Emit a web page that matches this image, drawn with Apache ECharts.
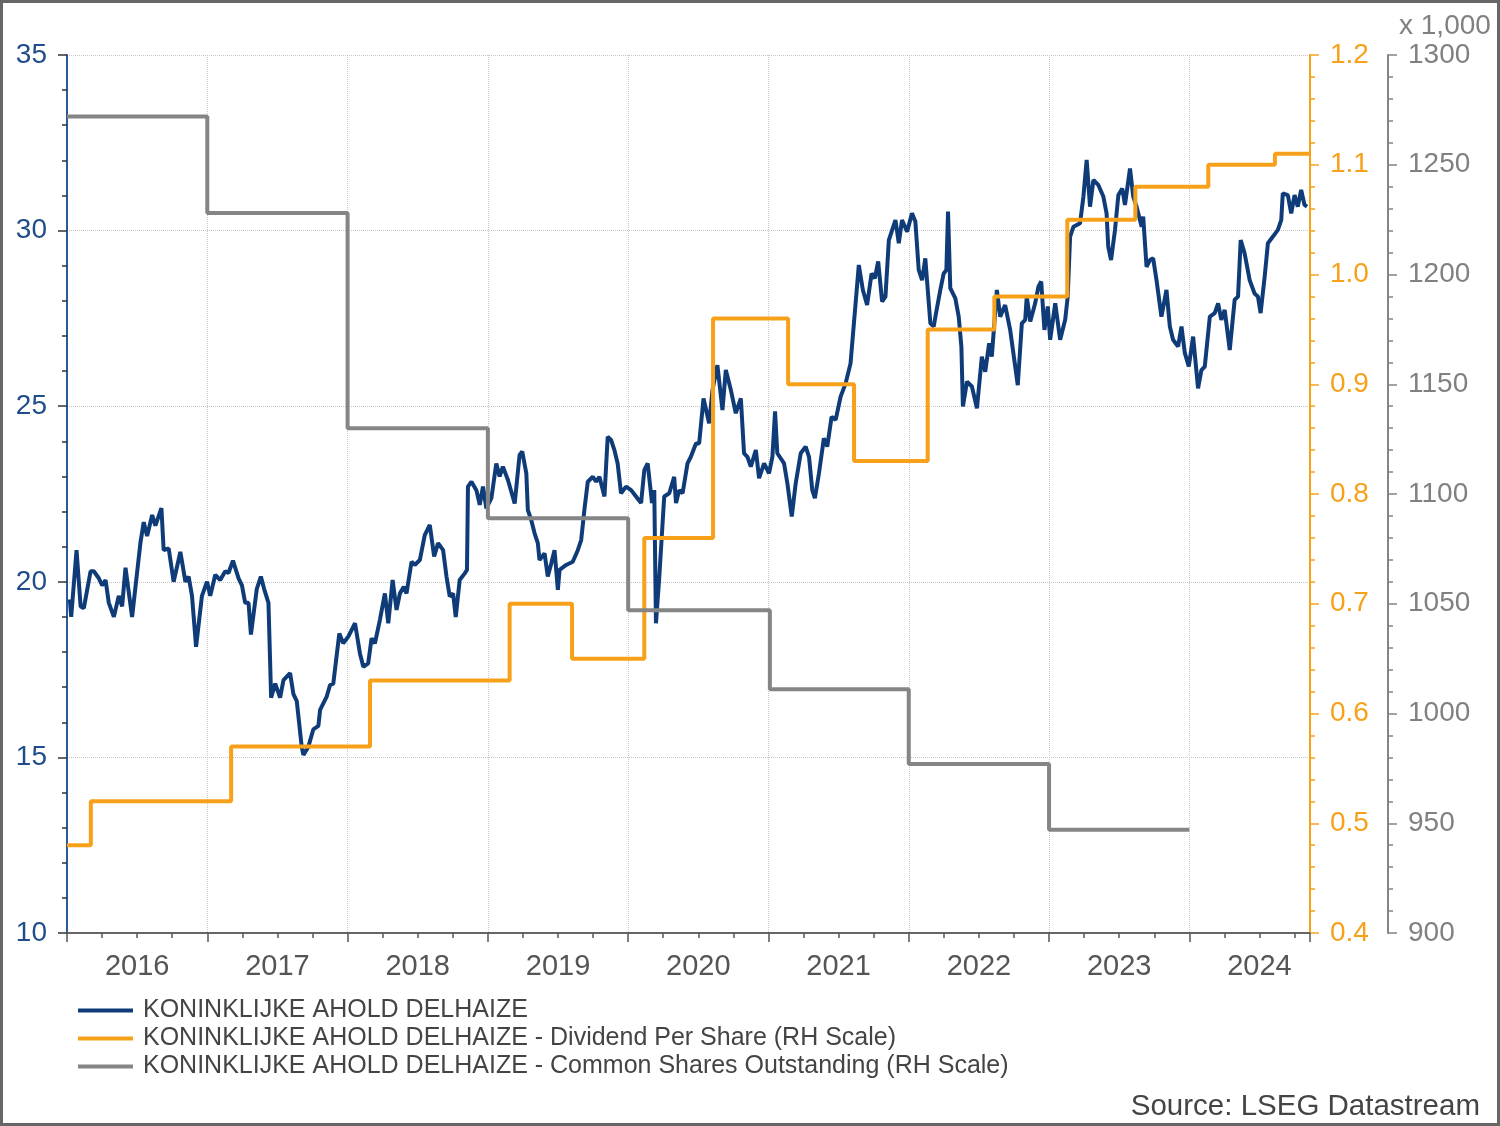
<!DOCTYPE html>
<html>
<head>
<meta charset="utf-8">
<script src="https://cdn.jsdelivr.net/npm/echarts@6.0.0/dist/echarts.min.js"></script>
<style>
  html, body { margin: 0; padding: 0; background: #fff; }
  #frame { width: 1500px; height: 1126px; box-sizing: border-box; border: 3px solid #666; }
  #chart { width: 1494px; height: 1120px; }
</style>
</head>
<body>
<div id="frame"><div id="chart"></div></div>
<script>
// share price (EUR), decimal year -> value
const priceDates = [
  2016.020, 2016.030, 2016.068, 2016.097, 2016.120, 2016.168, 2016.191, 2016.227, 2016.251, 2016.275,
  2016.298, 2016.334, 2016.369, 2016.393, 2016.417, 2016.464, 2016.523, 2016.547, 2016.571, 2016.607,
  2016.630, 2016.673, 2016.689, 2016.725, 2016.760, 2016.808, 2016.844, 2016.867, 2016.891, 2016.920,
  2016.962, 2016.998, 2017.021, 2017.057, 2017.092, 2017.128, 2017.151, 2017.183, 2017.223, 2017.247,
  2017.270, 2017.294, 2017.311, 2017.353, 2017.382, 2017.405, 2017.436, 2017.455, 2017.484, 2017.519,
  2017.543, 2017.590, 2017.614, 2017.638, 2017.673, 2017.685, 2017.720, 2017.756, 2017.792, 2017.804,
  2017.851, 2017.875, 2017.898, 2017.941, 2017.969, 2018.005, 2018.053, 2018.088, 2018.112, 2018.147,
  2018.171, 2018.195, 2018.230, 2018.266, 2018.290, 2018.321, 2018.349, 2018.373, 2018.401, 2018.420,
  2018.456, 2018.479, 2018.515, 2018.550, 2018.586, 2018.617, 2018.645, 2018.681, 2018.705, 2018.728,
  2018.752, 2018.771, 2018.799, 2018.835, 2018.851, 2018.858, 2018.883, 2018.918, 2018.942, 2018.965,
  2018.989, 2019.025, 2019.060, 2019.084, 2019.107, 2019.143, 2019.191, 2019.226, 2019.245, 2019.274,
  2019.285, 2019.309, 2019.333, 2019.356, 2019.368, 2019.404, 2019.427, 2019.452, 2019.475, 2019.499,
  2019.511, 2019.558, 2019.605, 2019.641, 2019.665, 2019.688, 2019.712, 2019.748, 2019.772, 2019.795,
  2019.831, 2019.854, 2019.878, 2019.902, 2019.925, 2019.949, 2019.985, 2020.021, 2020.056, 2020.092,
  2020.115, 2020.139, 2020.170, 2020.186, 2020.198, 2020.222, 2020.257, 2020.293, 2020.328, 2020.341,
  2020.364, 2020.388, 2020.423, 2020.447, 2020.483, 2020.506, 2020.537, 2020.577, 2020.601, 2020.636,
  2020.672, 2020.696, 2020.732, 2020.767, 2020.803, 2020.826, 2020.850, 2020.874, 2020.910, 2020.933,
  2020.969, 2021.004, 2021.028, 2021.047, 2021.063, 2021.111, 2021.135, 2021.166, 2021.194, 2021.230,
  2021.265, 2021.289, 2021.312, 2021.331, 2021.360, 2021.395, 2021.419, 2021.450, 2021.479, 2021.514,
  2021.550, 2021.585, 2021.621, 2021.644, 2021.673, 2021.703, 2021.735, 2021.758, 2021.782, 2021.810,
  2021.834, 2021.858, 2021.905, 2021.929, 2021.952, 2021.988, 2022.023, 2022.047, 2022.071, 2022.095,
  2022.118, 2022.130, 2022.154, 2022.178, 2022.190, 2022.225, 2022.249, 2022.268, 2022.280, 2022.296,
  2022.332, 2022.356, 2022.375, 2022.386, 2022.415, 2022.450, 2022.486, 2022.521, 2022.545, 2022.573,
  2022.592, 2022.628, 2022.652, 2022.687, 2022.723, 2022.777, 2022.806, 2022.830, 2022.841, 2022.866,
  2022.901, 2022.924, 2022.944, 2022.967, 2022.991, 2023.008, 2023.044, 2023.079, 2023.115, 2023.133,
  2023.150, 2023.174, 2023.221, 2023.245, 2023.268, 2023.292, 2023.316, 2023.351, 2023.387, 2023.410,
  2023.422, 2023.442, 2023.470, 2023.494, 2023.522, 2023.541, 2023.577, 2023.600, 2023.624, 2023.660,
  2023.671, 2023.695, 2023.719, 2023.742, 2023.766, 2023.801, 2023.837, 2023.861, 2023.884, 2023.920,
  2023.944, 2023.968, 2023.996, 2024.027, 2024.062, 2024.086, 2024.110, 2024.146, 2024.181, 2024.205,
  2024.228, 2024.252, 2024.288, 2024.323, 2024.347, 2024.366, 2024.394, 2024.430, 2024.465, 2024.489,
  2024.508, 2024.537, 2024.560, 2024.596, 2024.631, 2024.655, 2024.666, 2024.702, 2024.726, 2024.750,
  2024.773, 2024.797, 2024.821, 2024.839
];
const priceValues = [
  19.5, 19.0, 20.9, 19.3, 19.25, 20.3, 20.3, 20.1, 19.9, 20.05,
  19.4, 19.0, 19.6, 19.3, 20.4, 19.0, 21.1, 21.7, 21.3, 21.9,
  21.6, 22.1, 20.9, 20.95, 20.0, 20.85, 20.0, 20.15, 19.6, 18.15,
  19.6, 20.0, 19.6, 20.2, 20.05, 20.3, 20.25, 20.6, 20.1, 19.9,
  19.4, 19.4, 18.5, 19.8, 20.15, 19.8, 19.4, 16.7, 17.1, 16.7,
  17.2, 17.4, 16.8, 16.6, 15.3, 15.07, 15.3, 15.8, 15.9, 16.35,
  16.73, 17.06, 17.1, 18.53, 18.25, 18.44, 18.82, 17.96, 17.58, 17.68,
  18.39, 18.25, 18.91, 19.67, 18.82, 20.05, 19.2, 19.67, 19.86, 19.67,
  20.57, 20.48, 20.62, 21.33, 21.62, 20.72, 21.1, 20.9, 20.15, 19.58,
  19.67, 19.0, 20.05, 20.24, 20.34, 22.71, 22.85, 22.61, 22.19, 22.71,
  22.09, 22.38, 23.37, 23.0, 23.28, 22.9, 22.23, 23.61, 23.71, 23.09,
  22.04, 21.76, 21.38, 21.1, 20.62, 20.81, 20.15, 20.53, 20.9, 19.77,
  20.34, 20.48, 20.57, 20.9, 21.19, 22.05, 22.85, 22.99, 22.85, 22.99,
  22.43, 24.13, 24.04, 23.75, 23.37, 22.52, 22.71, 22.61, 22.43, 22.24,
  23.18, 23.37, 22.24, 22.61, 18.82, 20.15, 22.43, 22.52, 22.99, 22.24,
  22.61, 22.52, 23.37, 23.56, 23.94, 23.94, 25.22, 24.51, 25.46, 26.17,
  24.89, 26.03, 25.46, 24.80, 25.22, 23.66, 23.56, 23.28, 23.75, 22.95,
  23.37, 23.09, 23.56, 24.85, 23.66, 23.37, 22.8, 21.86, 22.8, 23.66,
  23.85, 23.56, 22.62, 22.38, 23.09, 24.09, 23.85, 24.70, 24.61, 25.27,
  25.65, 26.22, 27.93, 29.02, 28.31, 27.88, 28.78, 28.64, 29.12, 27.98,
  28.12, 29.73, 30.30, 29.64, 30.30, 29.97, 30.49, 30.26, 28.88, 28.59,
  29.21, 28.59, 27.36, 27.27, 27.55, 28.31, 28.78, 28.88, 30.54, 28.36,
  28.07, 27.55, 26.70, 24.99, 25.70, 25.56, 24.94, 26.41, 25.98, 26.79,
  26.41, 28.31, 27.55, 27.88, 27.17, 25.60, 27.36, 27.46, 28.12, 27.41,
  27.93, 28.40, 28.55, 27.17, 27.84, 26.89, 27.93, 26.89, 27.46, 28.12,
  29.83, 30.11, 30.21, 30.97, 32.01, 30.68, 31.44, 31.30, 30.97, 30.49,
  29.54, 29.16, 30.02, 31.01, 31.20, 30.73, 31.77, 30.97, 30.68, 30.11,
  30.40, 28.97, 29.16, 29.21, 28.59, 27.55, 28.31, 27.27, 26.89, 26.70,
  27.27, 26.51, 26.13, 26.98, 25.51, 26.03, 26.13, 27.55, 27.65, 27.93,
  27.46, 27.74, 26.60, 28.03, 28.12, 29.73, 29.35, 28.59, 28.21, 28.12,
  27.65, 28.69, 29.64, 29.83, 30.02, 30.30, 31.06, 31.01, 30.49, 31.01,
  30.68, 31.16, 30.73, 30.68
];

// dividend per share (EUR), value holds from each date to the next
const dpsDates = [2016.00, 2016.17, 2017.17, 2018.16, 2019.155, 2019.60, 2020.115, 2020.605,
  2021.14, 2021.61, 2022.135, 2022.61, 2023.13, 2023.615, 2024.135, 2024.61, 2024.86];
const dpsValues = [0.48, 0.52, 0.57, 0.63, 0.70, 0.65, 0.76, 0.96,
  0.90, 0.83, 0.95, 0.98, 1.05, 1.08, 1.10, 1.11, 1.11];

// common shares outstanding (x 1,000)
const sharesDates = [2016.00, 2017.00, 2018.00, 2019.00, 2020.00, 2021.01, 2022.00, 2023.00, 2024.00];
const sharesValues = [1272, 1228, 1130, 1089, 1047, 1011, 977, 947, 947];

const seriesNames = [
  'KONINKLIJKE AHOLD DELHAIZE',
  'KONINKLIJKE AHOLD DELHAIZE - Dividend Per Share (RH Scale)',
  'KONINKLIJKE AHOLD DELHAIZE - Common Shares Outstanding (RH Scale)'
];

const BLUE = '#0f3c78';
const ORANGE = '#f7a11b';
const GREY = '#858585';
const FONT = '"Liberation Sans", Arial, sans-serif';

const zip = (xs, ys) => xs.map((x, i) => [x, ys[i]]);

const chart = echarts.init(document.getElementById('chart'));

const option = {
  animation: false,
  textStyle: { fontFamily: FONT },
  title: [
    {
      text: 'x 1,000',
      left: 1391,
      top: 4,
      textStyle: { fontSize: 28, fontWeight: 'normal', color: '#808080', fontFamily: FONT }
    },
    {
      text: 'Source: LSEG Datastream',
      right: 12,
      top: 1084,
      textStyle: { fontSize: 29.5, fontWeight: 'normal', color: '#444', fontFamily: FONT }
    }
  ],
  legend: {
    orient: 'vertical',
    left: 75,
    top: 995,
    padding: 0,
    itemGap: 3,
    itemWidth: 55,
    itemHeight: 4,
    icon: 'rect',
    textStyle: { fontSize: 25, color: '#444', padding: [0, 0, 0, 5] },
    data: seriesNames
  },
  grid: { left: 64, right: 187, top: 52, bottom: 190, containLabel: false },
  xAxis: [
    {
      type: 'value',
      min: 2016,
      max: 2024.86,
      interval: 1,
      position: 'bottom',
      axisLine: { lineStyle: { color: '#666', width: 2 } },
      axisTick: { length: 9, lineStyle: { color: '#555', width: 1.5 } },
      minorTick: { show: true, splitNumber: 4, length: 5, lineStyle: { color: '#555', width: 1.5 } },
      axisLabel: { show: false },
      splitLine: { show: true, lineStyle: { color: '#c8c8c8', type: 'dotted', width: 1 } }
    },
    {
      type: 'value',
      min: 2016,
      max: 2024.86,
      interval: 0.5,
      position: 'bottom',
      axisLine: { show: false },
      axisTick: { show: false },
      splitLine: { show: false },
      axisLabel: {
        fontSize: 29,
        color: '#555',
        margin: 19,
        formatter: v => (Math.abs(v % 1 - 0.5) < 1e-6 ? String(Math.floor(v)) : '')
      }
    }
  ],
  yAxis: [
    {
      type: 'value',
      position: 'left',
      min: 10,
      max: 35,
      interval: 5,
      axisLine: { show: true, lineStyle: { color: '#2a5a98', width: 2 } },
      axisTick: { show: true, length: 9, lineStyle: { color: '#333', width: 1.5 } },
      minorTick: { show: true, splitNumber: 5, length: 5, lineStyle: { color: '#333', width: 1.5 } },
      axisLabel: { fontSize: 28, color: '#1f4e8a', margin: 20 },
      splitLine: { show: true, lineStyle: { color: '#c8c8c8', type: 'dotted', width: 1 } }
    },
    {
      type: 'value',
      position: 'right',
      offset: 0,
      min: 0.4,
      max: 1.2,
      interval: 0.1,
      axisLine: { show: true, lineStyle: { color: ORANGE, width: 2 } },
      axisTick: { show: true, length: 9, lineStyle: { color: ORANGE, width: 1.5 } },
      minorTick: { show: true, splitNumber: 5, length: 5, lineStyle: { color: ORANGE, width: 1.5 } },
      axisLabel: { fontSize: 28, color: ORANGE, margin: 20, formatter: v => v.toFixed(1) },
      splitLine: { show: false }
    },
    {
      type: 'value',
      position: 'right',
      offset: 78,
      min: 900,
      max: 1300,
      interval: 50,
      axisLine: { show: true, lineStyle: { color: GREY, width: 2 } },
      axisTick: { show: true, length: 9, lineStyle: { color: GREY, width: 1.5 } },
      minorTick: { show: true, splitNumber: 5, length: 5, lineStyle: { color: GREY, width: 1.5 } },
      axisLabel: { fontSize: 28, color: '#808080', margin: 20, formatter: v => String(v) },
      splitLine: { show: false }
    }
  ],
  series: [
    {
      name: seriesNames[0],
      type: 'line',
      xAxisIndex: 0,
      yAxisIndex: 0,
      showSymbol: false,
      symbol: 'none',
      color: BLUE,
      lineStyle: { color: BLUE, width: 4 },
      data: zip(priceDates, priceValues)
    },
    {
      name: seriesNames[1],
      type: 'line',
      xAxisIndex: 0,
      yAxisIndex: 1,
      step: 'end',
      showSymbol: false,
      symbol: 'none',
      color: ORANGE,
      lineStyle: { color: ORANGE, width: 4 },
      data: zip(dpsDates, dpsValues)
    },
    {
      name: seriesNames[2],
      type: 'line',
      xAxisIndex: 0,
      yAxisIndex: 2,
      step: 'end',
      showSymbol: false,
      symbol: 'none',
      color: GREY,
      lineStyle: { color: GREY, width: 4 },
      data: zip(sharesDates, sharesValues)
    }
  ]
};

chart.setOption(option);
</script>
</body>
</html>
